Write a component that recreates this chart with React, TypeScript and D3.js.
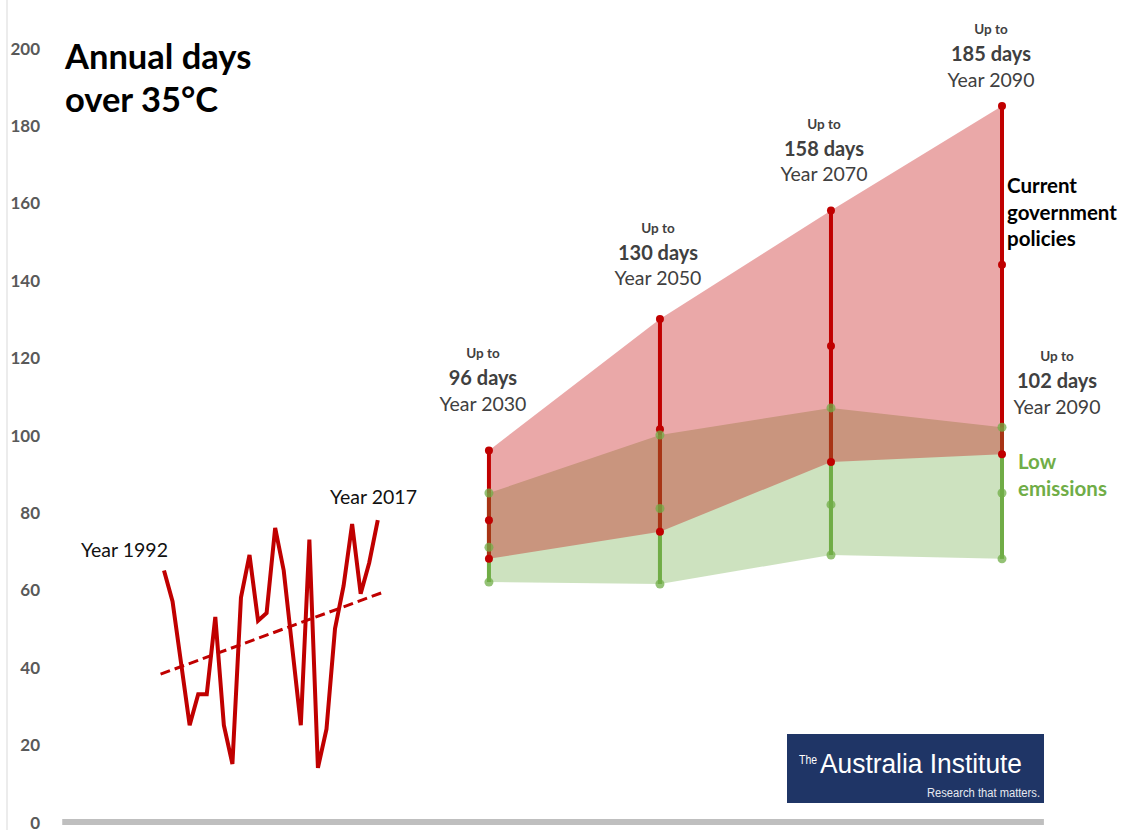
import React from "react";
import * as d3 from "d3";

// Observed annual days over 35°C, 1992–2017
const histYears = d3.range(1992, 2018);
const histDays = [65, 57, 41, 25, 33, 33, 53, 25, 15, 58, 69, 52, 54, 76, 65, 45, 25, 73, 14, 24, 50, 61, 77, 59, 67, 78];

// Trend line endpoints (year, days)
const trendYears = [1991.6, 2017.55];
const trendDays = [38.2, 59.3];

// Projection years
const projYears = [2030, 2050, 2070, 2090];

// Current government policies scenario
const currentHigh = [96, 130, 158, 185];
const currentMid = [78, 101.5, 123, 144];
const currentLow = [68, 75, 93, 95];

// Low emissions scenario
const lowHigh = [85, 100, 107, 102];
const lowMid = [71, 81, 82, 85];
const lowLow = [62, 61.5, 69, 68];

const yTicks = [0, 20, 40, 60, 80, 100, 120, 140, 160, 180, 200];

const RED = "#c00000";
const GREEN = "#70ad47";
const LABEL = "#404040";
const FONT = "Lato, 'Open Sans', sans-serif";
const LOGO_FONT = "'Liberation Sans Narrow', 'Liberation Sans', sans-serif";

// label offsets for the "Up to" annotations (dx from the point, dy of the first line above the point)
const annoLayout = [
  { dx: -6, dy: -97 },
  { dx: -2, dy: -91 },
  { dx: -7, dy: -87 },
  { dx: -11, dy: -77 },
];

export default function App() {
  const W = 1134;
  const H = 830;
  const x = d3.scaleLinear().domain([1992, 2090]).range([164, 1002]);
  const y = d3.scaleLinear().domain([0, 200]).range([822, 48]);

  const histLine = d3
    .line<number>()
    .x((_, i) => x(histYears[i]))
    .y((d) => y(d));

  const band = (hi: number[], lo: number[]) =>
    d3
      .area<number>()
      .x((d) => x(d))
      .y0((_, i) => y(lo[i]))
      .y1((_, i) => y(hi[i]))(projYears) as string;

  const axisStart = x(1980.1);
  const axisEnd = x(2094.9);

  const annotation = (cx: number, top: number, value: number, yr: number, key: string) => (
    <g key={key} textAnchor="middle" fill={LABEL}>
      <text x={cx} y={top} fontSize={13.5} fontWeight={700} dominantBaseline="central">
        Up to
      </text>
      <text x={cx} y={top + 24} fontSize={20} fontWeight={700} dominantBaseline="central">
        {value} days
      </text>
      <text x={cx} y={top + 50} fontSize={19.5} dominantBaseline="central">
        Year {yr}
      </text>
    </g>
  );

  return (
    <svg
      width={W}
      height={H}
      style={{ position: "absolute", left: 0, top: 0, background: "#fff" }}
      fontFamily={FONT}
    >
      {/* left axis rule */}
      <line x1={7} x2={7} y1={0} y2={H} stroke="#d9d9d9" strokeWidth={1} />

      {/* y tick labels */}
      {yTicks.map((t) => (
        <text
          key={t}
          x={40}
          y={y(t)}
          textAnchor="end"
          dominantBaseline="central"
          fontSize={17}
          fontWeight={700}
          fill="#595959"
        >
          {t}
        </text>
      ))}

      {/* baseline */}
      <line x1={axisStart} x2={axisEnd} y1={y(0)} y2={y(0)} stroke="#bfbfbf" strokeWidth={6} />

      {/* title */}
      <text x={65} y={69} fontSize={34.5} fontWeight={700} fill="#000">
        Annual days
      </text>
      <text x={65} y={112} fontSize={34.5} fontWeight={700} fill="#000">
        over 35°C
      </text>

      {/* historical record */}
      <path d={histLine(histDays) as string} fill="none" stroke={RED} strokeWidth={4} strokeLinejoin="miter" />
      <line
        x1={x(trendYears[0])}
        y1={y(trendDays[0])}
        x2={x(trendYears[1])}
        y2={y(trendDays[1])}
        stroke={RED}
        strokeWidth={3}
        strokeDasharray="10 5"
      />
      <text x={81} y={557} fontSize={19.5} fill="#111">
        Year {histYears[0]}
      </text>
      <text x={330} y={504} fontSize={19.5} fill="#111">
        Year {histYears[histYears.length - 1]}
      </text>

      {/* projection bands */}
      <path d={band(lowHigh, lowLow)} fill={GREEN} fillOpacity={0.35} />
      <path d={band(currentHigh, currentLow)} fill={RED} fillOpacity={0.34} />

      {/* range whiskers */}
      {projYears.map((yr, i) => (
        <g key={yr}>
          <line x1={x(yr)} x2={x(yr)} y1={y(lowLow[i])} y2={y(lowHigh[i])} stroke={GREEN} strokeWidth={4} />
          <line x1={x(yr)} x2={x(yr)} y1={y(currentLow[i])} y2={y(currentHigh[i])} stroke={RED} strokeWidth={4} />
          <line
            x1={x(yr)}
            x2={x(yr)}
            y1={y(lowLow[i])}
            y2={y(lowHigh[i])}
            stroke={GREEN}
            strokeOpacity={0.3}
            strokeWidth={4}
          />
          {[currentLow[i], currentMid[i], currentHigh[i]].map((v, j) => (
            <circle key={"r" + j} cx={x(yr)} cy={y(v)} r={4} fill={RED} />
          ))}
          {[lowLow[i], lowMid[i], lowHigh[i]].map((v, j) => (
            <circle key={"g" + j} cx={x(yr)} cy={y(v)} r={4.5} fill={GREEN} fillOpacity={0.75} />
          ))}
        </g>
      ))}

      {/* "Up to" annotations, current policies */}
      {projYears.map((yr, i) =>
        annotation(x(yr) + annoLayout[i].dx, y(currentHigh[i]) + annoLayout[i].dy, currentHigh[i], yr, "a" + yr)
      )}

      {/* "Up to" annotation, low emissions 2090 */}
      {annotation(
        x(projYears[3]) + 55,
        y(lowHigh[3]) - 71,
        lowHigh[3],
        projYears[3],
        "low2090"
      )}

      {/* scenario labels */}
      <g fontSize={20.5} fontWeight={700} fill="#000" dominantBaseline="central">
        <text x={1007} y={185}>Current</text>
        <text x={1007} y={212}>government</text>
        <text x={1007} y={238}>policies</text>
      </g>
      <g fontSize={20.5} fontWeight={700} fill={GREEN} dominantBaseline="central">
        <text x={1018} y={461}>Low</text>
        <text x={1018} y={488}>emissions</text>
      </g>

      {/* logo */}
      <g fontFamily={LOGO_FONT} fill="#fff">
        <rect x={787} y={734} width={257} height={69} fill="#1f3566" />
        <text x={799} y={764} fontSize={12} textLength={18} lengthAdjust="spacingAndGlyphs">
          The
        </text>
        <text x={820} y={773} fontSize={27} textLength={202} lengthAdjust="spacingAndGlyphs">
          Australia Institute
        </text>
        <text x={927} y={797} fontSize={12} fill="#e6e9f0" textLength={113} lengthAdjust="spacingAndGlyphs">
          Research that matters.
        </text>
      </g>
    </svg>
  );
}
